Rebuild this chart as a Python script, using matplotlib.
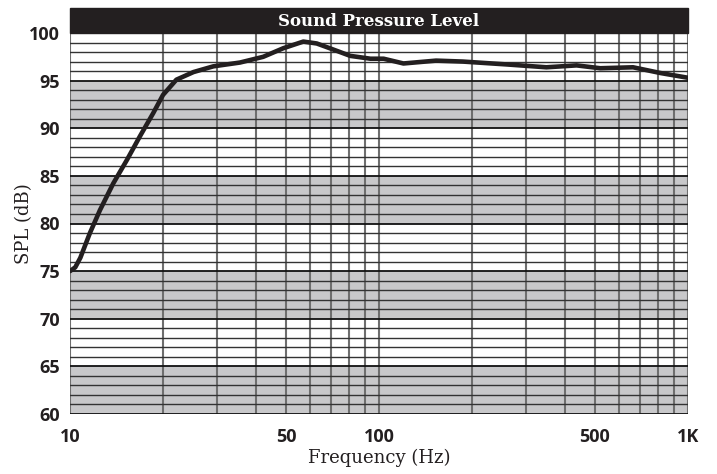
import numpy as np
from matplotlib import pyplot as plt
from matplotlib.patches import Rectangle

# frequency response
freq = [10, 10.4, 10.8, 11.6, 12.5, 13.8, 15.3, 16.8, 18.6, 20.0, 22.1, 25.1,
        29.1, 35.5, 42.2, 49, 56.9, 62.9, 69.3, 80.7, 93.8, 103.5, 120, 153,
        187, 259, 348, 436, 520, 664, 814, 1000]
spl = [75.0, 75.4, 76.4, 79.0, 81.4, 84.2, 86.7, 89.1, 91.6, 93.5, 95.1, 95.9,
       96.5, 96.9, 97.5, 98.4, 99.1, 98.9, 98.4, 97.6, 97.3, 97.3, 96.8, 97.1,
       97.0, 96.7, 96.4, 96.6, 96.3, 96.4, 95.8, 95.3]

x_ticks = [10, 50, 100, 500, 1000]
x_labels = ['10', '50', '100', '500', '1K']
y_ticks = [60, 65, 70, 75, 80, 85, 90, 95, 100]
bands = [(60, 65), (70, 75), (80, 85), (90, 95)]

fig = plt.figure(figsize=(7.17, 4.74), dpi=100)
ax = fig.add_axes([70 / 717, 1 - 414 / 474, 618 / 717, 381 / 474])

for lo, hi in bands:
    ax.axhspan(lo, hi, color='#c8c8ca', lw=0, zorder=0)

# grid: vertical at each decade step, horizontal every dB
for f in list(range(10, 100, 10)) + list(range(100, 1001, 100)):
    ax.axvline(f, color='#6e6e6e', lw=1.5, zorder=1)
for db in range(60, 100):
    if db % 5 == 0:
        ax.axhline(db, color='#111111', lw=1.3, zorder=2)
    else:
        ax.axhline(db, color='#333333', lw=1.0, zorder=2)

ax.plot(freq, spl, color='#231f20', lw=3.3, solid_capstyle='round',
        solid_joinstyle='round', zorder=5)

ax.set_xscale('log')
ax.set_xlim(10, 1000)
ax.set_ylim(60, 100)
ax.set_xticks(x_ticks)
ax.set_xticklabels(x_labels)
ax.minorticks_off()
ax.set_yticks(y_ticks)
ax.tick_params(length=0, labelsize=13)
ax.tick_params(axis='x', pad=10)
ax.tick_params(axis='y', pad=7)
for lab in ax.get_xticklabels() + ax.get_yticklabels():
    lab.set_fontfamily('Open Sans')
    lab.set_fontweight('bold')
    lab.set_color('#231f20')
for s in ax.spines.values():
    s.set_visible(False)

ax.set_xlabel('Frequency (Hz)', family='DejaVu Serif', fontsize=13,
              color='#231f20', va='center')
ax.xaxis.set_label_coords(0.5, -0.115)
ax.set_ylabel('SPL (dB)', family='DejaVu Serif', fontsize=13,
              color='#231f20', va='center')
ax.yaxis.set_label_coords(-0.074, 0.5)

# header bar
fig.patches.append(Rectangle((70 / 717, 1 - 33 / 474), 618 / 717, 25 / 474,
                             transform=fig.transFigure, color='#231f20'))
fig.text(379 / 717, 1 - 21 / 474, 'Sound Pressure Level', ha='center',
         va='center', color='white', family='DejaVu Serif',
         fontweight='bold', fontsize=12)

fig.savefig('out.png', dpi=100)
